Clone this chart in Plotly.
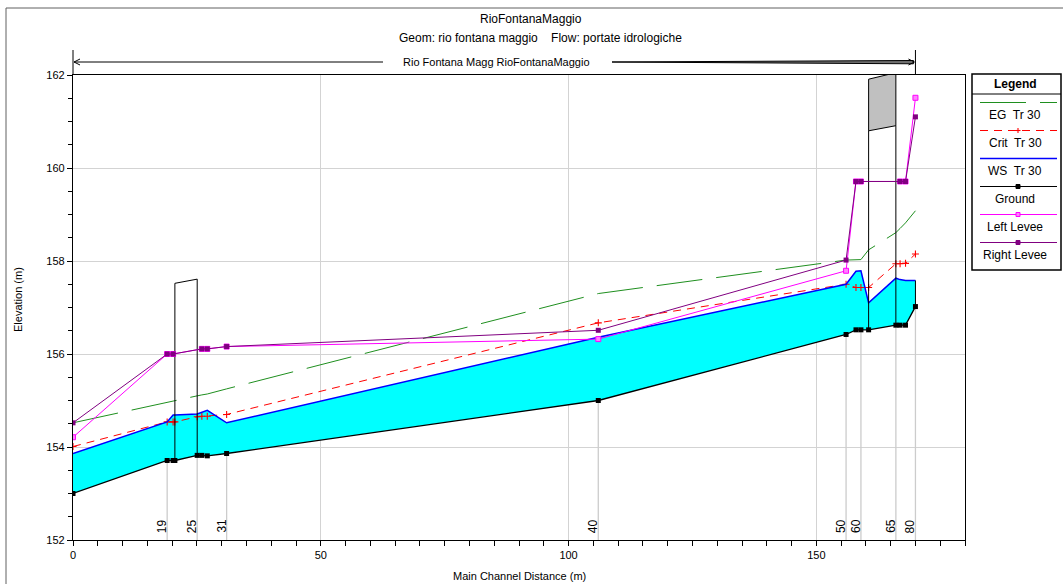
import numpy as np
import plotly.graph_objects as go

# ---- profile data (main channel distance in m, elevations in m) ----
dist = [0, 19, 20.2, 20.56, 25.06, 26.0, 27.1, 31, 106, 156, 158, 159, 160.55, 166.05, 166.9, 168, 170]
ground = [153.00, 153.71, 153.71, 153.71, 153.82, 153.82, 153.81, 153.86, 155.00,
          156.42, 156.52, 156.52, 156.52, 156.62, 156.62, 156.62, 157.02]
ws_tr30 = [153.86, 154.54, 154.69, 154.69, 154.71, 154.75, 154.79, 154.52, 156.36,
           157.50, 157.78, 157.79, 157.10, 157.63, 157.60, 157.58, 157.58]
crit_tr30 = [154.01, 154.54, 154.54, 154.54, 154.65, 154.66, 154.66, 154.70, 156.67,
             157.50, 157.43, 157.43, 157.43, 157.94, 157.94, 157.95, 158.15]
eg_tr30 = [154.52, 154.97, 155.00, 155.00, 155.10, 155.12, 155.14, 155.25, 157.30,
           158.02, 158.03, 158.03, 158.24, 158.61, 158.70, 158.82, 159.08]

levee_dist = [0, 19, 20.2, 26.0, 27.1, 31, 106, 156, 158, 159, 166.9, 168, 170]
left_levee = [154.21, 156.00, 156.00, 156.11, 156.11, 156.16, 156.32, 157.79,
              159.71, 159.71, 159.71, 159.71, 161.51]
right_levee = [154.52, 156.00, 156.00, 156.11, 156.11, 156.16, 156.51, 158.02,
               159.71, 159.71, 159.71, 159.71, 161.10]

station_names = ["19", "25", "31", "40", "50", "60", "65", "80"]
station_dist = [19, 25.06, 31, 106, 156, 159, 166.05, 170]

# structures: (upstream face, downstream face, top up, top down, low chord up, low chord down)
culvert = (20.56, 25.06, 157.52, 157.61)
bridge = (160.55, 166.05, 161.91, 162.05, 160.80, 160.91)

reach_label = "Rio Fontana Magg RioFontanaMaggio"
reach_end = 170

FONT = "Arial, Liberation Sans, sans-serif"
GREEN, RED, BLUE = "#1f8f1f", "#ff0000", "#0000ff"
MAGENTA, PURPLE = "#ff00ff", "#800080"

# plot-area pixel frame, used to place the decorations drawn in paper units
L, R, T, B = 73, 965, 75, 540


def px(xp):
    return (xp - L) / (R - L)


def py(yp):
    return (B - yp) / (B - T)


def gnd(x):
    return float(np.interp(x, dist, ground))


fig = go.Figure()

# vertical station lines from the axis up to the ground
sx, sy = [], []
for d in station_dist:
    sx += [d, d, None]
    sy += [152, gnd(d), None]
fig.add_trace(go.Scatter(x=sx, y=sy, mode="lines", line=dict(color="#cccccc", width=1.3),
                         hoverinfo="skip"))

# water between ground and water surface
fig.add_trace(go.Scatter(x=dist + dist[::-1], y=ws_tr30 + ground[::-1], mode="lines",
                         fill="toself", fillcolor="#00ffff", line=dict(width=0),
                         hoverinfo="skip"))

# energy grade line
fig.add_trace(go.Scatter(x=dist, y=eg_tr30, mode="lines", name="EG  Tr 30",
                         line=dict(color=GREEN, width=1, dash="46px,14px")))
# critical depth
fig.add_trace(go.Scatter(x=dist, y=crit_tr30, mode="lines+markers", name="Crit  Tr 30",
                         line=dict(color=RED, width=1, dash="8px,6px"),
                         marker=dict(symbol="cross-thin", size=5,
                                     line=dict(color=RED, width=1.1))))
# water surface
fig.add_trace(go.Scatter(x=dist, y=ws_tr30, mode="lines", name="WS  Tr 30",
                         line=dict(color=BLUE, width=1.5)))
# downstream end of the wetted area
fig.add_trace(go.Scatter(x=[dist[-1], dist[-1]], y=[ground[-1], ws_tr30[-1]], mode="lines",
                         line=dict(color="black", width=1), hoverinfo="skip"))

# culvert outline
cu, cd, ctu, ctd = culvert
fig.add_trace(go.Scatter(x=[cu, cu, cd, cd], y=[gnd(cu), ctu, ctd, gnd(cd)], mode="lines",
                         line=dict(color="black", width=1), hoverinfo="skip"))

# bridge deck and piers
bu, bd, btu, btd, blu, bld = bridge
fig.add_trace(go.Scatter(x=[bu, bu, bd, bd, bu], y=[blu, btu, btd, bld, blu], mode="lines",
                         fill="toself", fillcolor="#c0c0c0",
                         line=dict(color="black", width=1), hoverinfo="skip"))
fig.add_trace(go.Scatter(x=[bu, bu, None, bd, bd], y=[gnd(bu), blu, None, gnd(bd), bld],
                         mode="lines", line=dict(color="black", width=1), hoverinfo="skip"))

# ground
fig.add_trace(go.Scatter(x=dist, y=ground, mode="lines+markers", name="Ground",
                         line=dict(color="black", width=1.3),
                         marker=dict(symbol="square", size=5, color="black")))
# levees
fig.add_trace(go.Scatter(x=levee_dist, y=left_levee, mode="lines+markers", name="Left Levee",
                         line=dict(color=MAGENTA, width=1),
                         marker=dict(symbol="square", size=5, color="#ff80ff",
                                     line=dict(color=MAGENTA, width=1))))
fig.add_trace(go.Scatter(x=levee_dist, y=right_levee, mode="lines+markers", name="Right Levee",
                         line=dict(color=PURPLE, width=1),
                         marker=dict(symbol="square", size=5, color=PURPLE)))

shapes = []
annotations = []

# outer frame (top and left edges)
shapes.append(dict(type="line", xref="paper", yref="paper", x0=px(6), x1=px(1063),
                   y0=py(8), y1=py(8), line=dict(color="#606060", width=1)))
shapes.append(dict(type="line", xref="paper", yref="paper", x0=px(6), x1=px(6),
                   y0=py(8), y1=py(584), line=dict(color="#606060", width=1)))

# reach banner
yb = 62
x_end = L + (R - L) * reach_end / 180.0
for xv in (L, x_end):
    shapes.append(dict(type="line", xref="paper", yref="paper", x0=px(xv), x1=px(xv),
                       y0=py(50), y1=py(T), line=dict(color="black", width=1)))
shapes.append(dict(type="line", xref="paper", yref="paper", x0=px(L + 1), x1=px(383),
                   y0=py(yb), y1=py(yb), line=dict(color="black", width=1)))
shapes.append(dict(type="path", xref="paper", yref="paper",
                   path=f"M {px(612)},{py(yb)} L {px(x_end - 2)},{py(yb - 1.5)} "
                        f"L {px(x_end - 2)},{py(yb + 1.8)} Z",
                   fillcolor="#707070", line=dict(color="black", width=1)))
for xt, xh in ((L + 1, L + 7), (x_end - 1, x_end - 7)):
    shapes.append(dict(type="path", xref="paper", yref="paper",
                       path=f"M {px(xh)},{py(yb - 3)} L {px(xt)},{py(yb)} L {px(xh)},{py(yb + 3)}",
                       line=dict(color="black", width=1)))
annotations.append(dict(text=reach_label, xref="paper", yref="paper", x=px(496), y=py(yb),
                        showarrow=False, font=dict(size=11, color="black", family=FONT),
                        xanchor="center", yanchor="middle"))

# titles
annotations.append(dict(text="RioFontanaMaggio", xref="paper", yref="paper", x=px(531),
                        y=py(19), showarrow=False, xanchor="center", yanchor="middle",
                        font=dict(size=12, color="black", family=FONT)))
annotations.append(dict(text="Geom: rio fontana maggio    Flow: portate idrologiche",
                        xref="paper", yref="paper", x=px(540), y=py(38), showarrow=False,
                        xanchor="center", yanchor="middle",
                        font=dict(size=12, color="black", family=FONT)))
annotations.append(dict(text="Main Channel Distance (m)", xref="paper", yref="paper",
                        x=0.5, y=py(576), showarrow=False, xanchor="center", yanchor="middle",
                        font=dict(size=11, color="black", family=FONT)))
annotations.append(dict(text="Elevation (m)", xref="paper", yref="paper", x=px(18),
                        y=py(300), showarrow=False, textangle=-90, xanchor="center",
                        yanchor="middle", font=dict(size=11, color="black", family=FONT)))

# river station labels
for name, d in zip(station_names, station_dist):
    annotations.append(dict(text=name, xref="x", yref="paper", x=d, y=py(526), xshift=-5,
                            showarrow=False, textangle=-90, xanchor="center",
                            yanchor="middle", font=dict(size=12, color="black", family=FONT)))

# legend panel
LX0, LX1, LY0, LY1 = 972, 1061, 74, 270
shapes.append(dict(type="rect", xref="paper", yref="paper", x0=px(LX0), x1=px(LX1),
                   y0=py(LY1), y1=py(LY0), line=dict(color="black", width=1.5),
                   fillcolor="white"))
shapes.append(dict(type="line", xref="paper", yref="paper", x0=px(LX0), x1=px(LX1),
                   y0=py(94), y1=py(94), line=dict(color="black", width=1)))
annotations.append(dict(text="<b>Legend</b>", xref="paper", yref="paper", x=px(1015),
                        y=py(83.5), showarrow=False, xanchor="center", yanchor="middle",
                        font=dict(size=12, color="black", family=FONT)))

legend_items = [
    ("EG  Tr 30", GREEN, "46px,14px", None, 1),
    ("Crit  Tr 30", RED, "8px,6px", "cross", 1),
    ("WS  Tr 30", BLUE, "solid", None, 1.5),
    ("Ground", "black", "solid", "black", 1),
    ("Left Levee", MAGENTA, "solid", "#ff80ff", 1),
    ("Right Levee", PURPLE, "solid", PURPLE, 1),
]
for i, (label, color, dash, mark, lw) in enumerate(legend_items):
    yl = 102.5 + 28 * i
    yt = 115 + 28 * i
    shapes.append(dict(type="line", xref="paper", yref="paper", x0=px(980), x1=px(1057),
                       y0=py(yl), y1=py(yl), line=dict(color=color, width=lw, dash=dash)))
    if mark == "cross":
        shapes.append(dict(type="line", xref="paper", yref="paper", x0=px(1015.5), x1=px(1020.5),
                           y0=py(yl), y1=py(yl), line=dict(color=color, width=1.1)))
        shapes.append(dict(type="line", xref="paper", yref="paper", x0=px(1018), x1=px(1018),
                           y0=py(yl - 2.5), y1=py(yl + 2.5), line=dict(color=color, width=1.1)))
    elif mark is not None:
        shapes.append(dict(type="rect", xref="paper", yref="paper", x0=px(1016), x1=px(1020),
                           y0=py(yl + 2), y1=py(yl - 2), fillcolor=mark,
                           line=dict(color=color, width=1)))
    annotations.append(dict(text=label, xref="paper", yref="paper", x=px(1015), y=py(yt),
                            showarrow=False, xanchor="center", yanchor="middle",
                            font=dict(size=12, color="black", family=FONT)))

fig.update_layout(
    width=1063, height=584, autosize=False,
    margin=dict(l=L, r=1063 - R, t=T, b=584 - B, pad=0),
    plot_bgcolor="white", paper_bgcolor="white",
    showlegend=False,
    font=dict(family=FONT, size=11, color="black"),
    shapes=shapes, annotations=annotations,
    xaxis=dict(range=[0, 180], tick0=0, dtick=50, showgrid=True, gridcolor="#d3d3d3",
               gridwidth=1, zeroline=False, showline=True, linecolor="black", linewidth=1.3,
               mirror=True, ticks="outside", ticklen=5, tickcolor="black",
               tickfont=dict(size=11, family=FONT, color="black"),
               minor=dict(dtick=5, ticks="outside", ticklen=5, tickcolor="black",
                          showgrid=False)),
    yaxis=dict(range=[152, 162], tick0=152, dtick=2, showgrid=True, gridcolor="#d3d3d3",
               gridwidth=1, zeroline=False, showline=True, linecolor="black", linewidth=1.3,
               mirror=True, ticks="outside", ticklen=5, tickcolor="black",
               tickfont=dict(size=11, family=FONT, color="black"),
               minor=dict(dtick=0.5, ticks="outside", ticklen=4, tickcolor="black",
                          showgrid=False)),
)

fig.write_html("out.html")
